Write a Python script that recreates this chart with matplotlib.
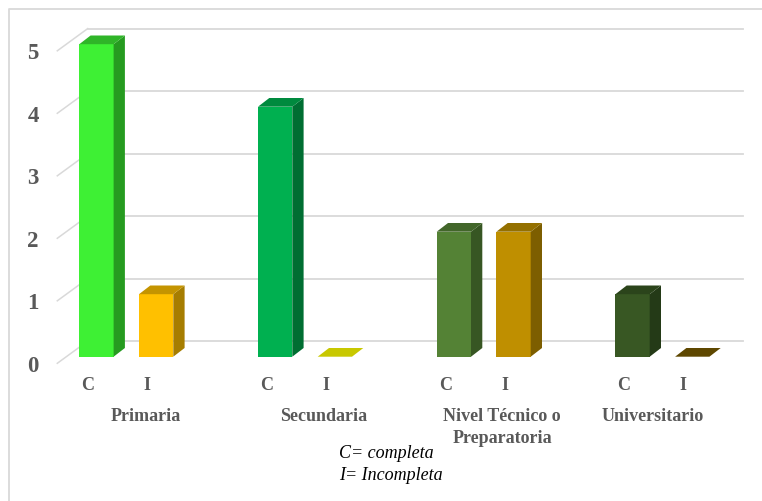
import matplotlib
matplotlib.use("Agg")
import matplotlib.pyplot as plt
from matplotlib.patches import Polygon

W, H = 762, 501

# data
groups = ["Primaria", "Secundaria", "Nivel Técnico o\nPreparatoria", "Universitario"]
sub_labels = ["C", "I"]
completa = [5, 4, 2, 1]
incompleta = [1, 0, 2, 0]
y_ticks = [0, 1, 2, 3, 4, 5]

# front, side, top colours per bar
colors_c = [("#3EF034", "#269B20", "#2FB528"), ("#00B050", "#006E32", "#008A3E"),
            ("#548235", "#375623", "#42662A"), ("#385723", "#243A17", "#2B441B")]
colors_i = [("#FFC000", "#A67D00", "#C49400"), ("#C8C800", "#C8C800", "#C8C800"),
            ("#BF8F00", "#7D5E00", "#947000"), ("#7F6000", "#5E4700", "#5E4700")]

GRID = "#D9D9D9"
TEXT = "#595959"
SERIF = "Liberation Serif"

# pixel layout of the plot
BASE_PX = 356.7
UNIT_PX = 62.5
X0_PX = 79.3       # left edge of first bar
GROUP_PX = 178.7
GAP_PX = 59.7
BAR_PX = 34.3
DX_BAR, DY_BAR = 11.3, 8.7     # bar depth
DY_WALL = 15.6                 # from bar base to back wall
DY_FRONT = 6.6                 # from bar base to front of floor


def py(px):
    # pixel row -> value units
    return (BASE_PX - px) / UNIT_PX


fig = plt.figure(figsize=(W / 100, H / 100), dpi=100)
fig.patch.set_facecolor("white")

# axes covers the whole picture, x in px, y in value units
ax = fig.add_axes([0, 0, 1, 1])
ax.set_xlim(0, W)
ax.set_ylim(py(H), py(0))
ax.axis("off")

# chart border, only left and top are in the crop
ax.plot([8.8, 8.8, W], [py(H), py(8.8), py(8.8)], color=GRID, lw=1.3, zorder=1)

# gridlines, wall and floor
dy_wall = DY_WALL / UNIT_PX
dy_front = DY_FRONT / UNIT_PX
for v in y_ticks:
    ax.plot([57.3, 87.7], [v - dy_front, v + dy_wall], color=GRID, lw=1.1, zorder=1)
    ax.plot([87.7, 743], [v + dy_wall, v + dy_wall], color=GRID, lw=1.3, zorder=1)
    ax.text(33, v - dy_front - 0.05, str(v), family=SERIF, weight="bold", size=16.5,
            color=TEXT, ha="center", va="center", zorder=5)


def draw_bar(x, v, cols):
    front, side, top = cols
    d = DY_BAR / UNIT_PX
    ax.bar(x, v, width=BAR_PX, align="edge", color=front, lw=0, zorder=3)
    ax.add_patch(Polygon([(x + BAR_PX, 0), (x + BAR_PX + DX_BAR, d),
                          (x + BAR_PX + DX_BAR, v + d), (x + BAR_PX, v)],
                         fc=side, lw=0, zorder=3))
    ax.add_patch(Polygon([(x, v), (x + DX_BAR, v + d),
                          (x + BAR_PX + DX_BAR, v + d), (x + BAR_PX, v)],
                         fc=top, lw=0, zorder=3))


for i in range(len(groups)):
    xc = X0_PX + i * GROUP_PX
    xi = xc + GAP_PX
    draw_bar(xc, completa[i], colors_c[i])
    draw_bar(xi, incompleta[i], colors_i[i])
    ax.text(xc + 8.7, py(385.5), sub_labels[0], family=SERIF, weight="bold", size=13,
            color=TEXT, ha="center", va="center")
    ax.text(xi + 8.0, py(385.5), sub_labels[1], family=SERIF, weight="bold", size=13,
            color=TEXT, ha="center", va="center")

label_x = [145.5, 323.5, 502, 653]
label_y = [416.5, 416.5, 427.5, 416.5]
for lx, ly, g in zip(label_x, label_y, groups):
    ax.text(lx, py(ly), g, family=SERIF, weight="bold", size=13,
            color=TEXT, ha="center", va="center", linespacing=1.4)

# note under the chart
ax.text(339, py(454), "C= completa", family=SERIF, style="italic",
        size=13, color="black", ha="left", va="center")
ax.text(339, py(475), "I= Incompleta", family=SERIF, style="italic",
        size=13, color="black", ha="left", va="center")

fig.savefig("out.png", dpi=100, facecolor="white")
